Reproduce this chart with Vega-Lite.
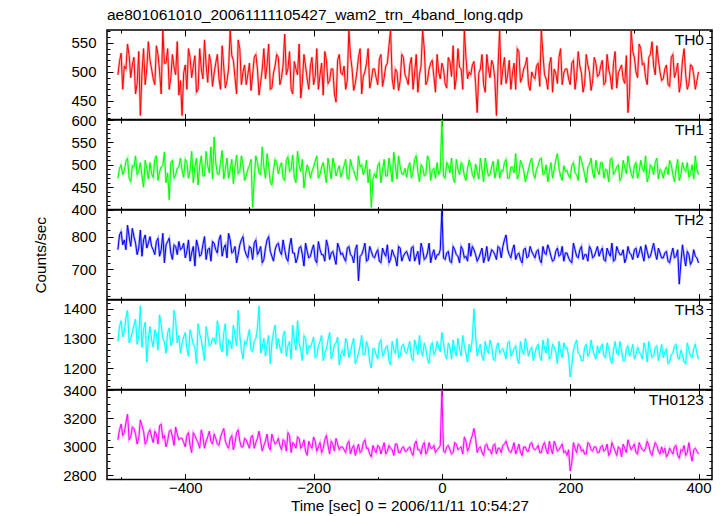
{
 "$schema": "https://vega.github.io/schema/vega-lite/v6.json",
 "padding": {"left": 33, "top": 8, "right": 5, "bottom": 2},
 "title": {"text": "ae801061010_20061111105427_wam2_trn_4band_long.qdp", "anchor": "start", "frame": "group", "fontSize": 15.5, "fontWeight": "normal", "font": "Liberation Sans", "color": "#000", "offset": 5},
 "spacing": 0,
 "bounds": "flush",
 "datasets": {"lc": [
{"t":-505,"a":495,"b":470,"c":760,"d":1290,"e":3050},
{"t":-500,"a":532,"b":500,"c":815,"d":1360,"e":3160},
{"t":-495,"a":510,"b":488,"c":790,"d":1325,"e":3100},
{"t":-490,"a":548,"b":515,"c":835,"d":1395,"e":3230},
{"t":-485,"a":490,"b":462,"c":770,"d":1300,"e":3070},
{"t":-480,"a":525,"b":495,"c":800,"d":1345,"e":3130},
{"t":-475,"a":480,"b":478,"c":745,"d":1280,"e":3020},
{"t":-470,"a":425,"b":505,"c":820,"d":1410,"e":3190},
{"t":-465,"a":540,"b":450,"c":790,"d":1330,"e":3110},
{"t":-460,"a":505,"b":492,"c":765,"d":1220,"e":3040},
{"t":-455,"a":520,"b":505,"c":800,"d":1340,"e":3120},
{"t":-450,"a":488,"b":472,"c":760,"d":1270,"e":3030},
{"t":-445,"a":545,"b":520,"c":785,"d":1315,"e":3090},
{"t":-440,"a":500,"b":485,"c":740,"d":1380,"e":3150},
{"t":-435,"a":572,"b":498,"c":810,"d":1300,"e":3060},
{"t":-430,"a":515,"b":460,"c":775,"d":1250,"e":3000},
{"t":-425,"a":470,"b":422,"c":795,"d":1335,"e":3110},
{"t":-420,"a":530,"b":510,"c":730,"d":1290,"e":3070},
{"t":-415,"a":495,"b":478,"c":770,"d":1360,"e":3140},
{"t":-410,"a":460,"b":495,"c":785,"d":1310,"e":3050},
{"t":-405,"a":425,"b":488,"c":765,"d":1285,"e":3060},
{"t":-400,"a":512,"b":512,"c":735,"d":1320,"e":3000},
{"t":-395,"a":540,"b":470,"c":790,"d":1240,"e":3100},
{"t":-390,"a":490,"b":530,"c":750,"d":1305,"e":2960},
{"t":-385,"a":528,"b":495,"c":710,"d":1270,"e":3080},
{"t":-380,"a":470,"b":455,"c":770,"d":1350,"e":3030},
{"t":-375,"a":505,"b":520,"c":745,"d":1295,"e":3120},
{"t":-370,"a":555,"b":475,"c":800,"d":1225,"e":2990},
{"t":-365,"a":482,"b":498,"c":760,"d":1310,"e":3070},
{"t":-360,"a":515,"b":540,"c":725,"d":1280,"e":3040},
{"t":-355,"a":498,"b":562,"c":780,"d":1300,"e":3090},
{"t":-350,"a":530,"b":480,"c":750,"d":1360,"e":3020},
{"t":-345,"a":470,"b":505,"c":805,"d":1270,"e":3070},
{"t":-340,"a":508,"b":468,"c":765,"d":1320,"e":3130},
{"t":-335,"a":485,"b":515,"c":735,"d":1240,"e":3010},
{"t":-330,"a":572,"b":490,"c":790,"d":1290,"e":3060},
{"t":-325,"a":520,"b":458,"c":755,"d":1345,"e":2980},
{"t":-320,"a":462,"b":522,"c":720,"d":1275,"e":3100},
{"t":-315,"a":540,"b":485,"c":775,"d":1310,"e":3040},
{"t":-310,"a":500,"b":500,"c":800,"d":1230,"e":3000},
{"t":-305,"a":478,"b":475,"c":745,"d":1280,"e":3050},
{"t":-300,"a":515,"b":498,"c":770,"d":1330,"e":2990},
{"t":-295,"a":495,"b":405,"c":730,"d":1255,"e":3080},
{"t":-290,"a":530,"b":520,"c":790,"d":1300,"e":3030},
{"t":-285,"a":460,"b":482,"c":755,"d":1410,"e":3110},
{"t":-280,"a":505,"b":540,"c":720,"d":1270,"e":2970},
{"t":-275,"a":488,"b":470,"c":765,"d":1240,"e":3040},
{"t":-270,"a":548,"b":498,"c":800,"d":1310,"e":3000},
{"t":-265,"a":472,"b":455,"c":740,"d":1285,"e":3090},
{"t":-260,"a":510,"b":512,"c":760,"d":1345,"e":3020},
{"t":-255,"a":525,"b":480,"c":780,"d":1300,"e":3060},
{"t":-250,"a":490,"b":505,"c":745,"d":1250,"e":2980},
{"t":-245,"a":565,"b":465,"c":760,"d":1325,"e":3040},
{"t":-240,"a":505,"b":518,"c":725,"d":1275,"e":3100},
{"t":-235,"a":470,"b":490,"c":795,"d":1230,"e":2960},
{"t":-230,"a":518,"b":472,"c":750,"d":1295,"e":3020},
{"t":-225,"a":495,"b":530,"c":735,"d":1360,"e":3070},
{"t":-220,"a":455,"b":485,"c":770,"d":1260,"e":2990},
{"t":-215,"a":530,"b":448,"c":710,"d":1310,"e":3050},
{"t":-210,"a":488,"b":500,"c":755,"d":1245,"e":2940},
{"t":-205,"a":510,"b":470,"c":740,"d":1270,"e":3010},
{"t":-200,"a":478,"b":495,"c":775,"d":1305,"e":3070},
{"t":-195,"a":540,"b":520,"c":720,"d":1240,"e":2970},
{"t":-190,"a":495,"b":478,"c":760,"d":1290,"e":3030},
{"t":-185,"a":460,"b":505,"c":745,"d":1225,"e":2990},
{"t":-180,"a":520,"b":460,"c":790,"d":1265,"e":3080},
{"t":-175,"a":485,"b":492,"c":730,"d":1320,"e":2950},
{"t":-170,"a":505,"b":515,"c":755,"d":1250,"e":3020},
{"t":-165,"a":448,"b":475,"c":715,"d":1285,"e":3060},
{"t":-160,"a":530,"b":498,"c":765,"d":1210,"e":2980},
{"t":-155,"a":495,"b":485,"c":750,"d":1260,"e":3000},
{"t":-150,"a":470,"b":512,"c":725,"d":1300,"e":2960},
{"t":-145,"a":572,"b":468,"c":770,"d":1235,"e":3040},
{"t":-140,"a":505,"b":495,"c":740,"d":1280,"e":2990},
{"t":-135,"a":480,"b":475,"c":760,"d":1215,"e":2940},
{"t":-130,"a":525,"b":520,"c":665,"d":1250,"e":3020},
{"t":-125,"a":462,"b":500,"c":745,"d":1310,"e":2970},
{"t":-120,"a":500,"b":488,"c":780,"d":1245,"e":3050},
{"t":-115,"a":540,"b":460,"c":730,"d":1270,"e":2990},
{"t":-110,"a":485,"b":405,"c":755,"d":1200,"e":2930},
{"t":-105,"a":505,"b":480,"c":735,"d":1265,"e":2980},
{"t":-100,"a":478,"b":498,"c":760,"d":1230,"e":3010},
{"t":-95,"a":530,"b":460,"c":720,"d":1295,"e":2950},
{"t":-90,"a":490,"b":512,"c":750,"d":1250,"e":3030},
{"t":-85,"a":515,"b":475,"c":775,"d":1275,"e":2970},
{"t":-80,"a":572,"b":490,"c":730,"d":1210,"e":2990},
{"t":-75,"a":470,"b":528,"c":745,"d":1260,"e":2940},
{"t":-70,"a":500,"b":468,"c":710,"d":1300,"e":3020},
{"t":-65,"a":485,"b":495,"c":765,"d":1240,"e":2960},
{"t":-60,"a":525,"b":478,"c":740,"d":1280,"e":3000},
{"t":-55,"a":488,"b":472,"c":755,"d":1250,"e":2970},
{"t":-50,"a":512,"b":505,"c":725,"d":1290,"e":3000},
{"t":-45,"a":470,"b":485,"c":770,"d":1225,"e":2940},
{"t":-40,"a":530,"b":520,"c":740,"d":1275,"e":3040},
{"t":-35,"a":495,"b":462,"c":715,"d":1310,"e":2980},
{"t":-30,"a":572,"b":495,"c":760,"d":1240,"e":3010},
{"t":-25,"a":478,"b":478,"c":735,"d":1265,"e":2950},
{"t":-20,"a":505,"b":510,"c":780,"d":1215,"e":3030},
{"t":-15,"a":520,"b":488,"c":745,"d":1285,"e":2990},
{"t":-10,"a":465,"b":470,"c":730,"d":1255,"e":2960},
{"t":-5,"a":500,"b":478,"c":745,"d":1270,"e":2990},
{"t":0,"a":515,"b":600,"c":880,"d":1320,"e":3400},
{"t":5,"a":480,"b":470,"c":730,"d":1245,"e":2960},
{"t":10,"a":525,"b":498,"c":755,"d":1285,"e":3010},
{"t":15,"a":492,"b":515,"c":720,"d":1230,"e":2950},
{"t":20,"a":470,"b":460,"c":760,"d":1260,"e":3030},
{"t":25,"a":540,"b":490,"c":740,"d":1300,"e":2980},
{"t":30,"a":505,"b":505,"c":770,"d":1240,"e":3000},
{"t":35,"a":572,"b":475,"c":735,"d":1275,"e":3070},
{"t":40,"a":488,"b":492,"c":725,"d":1220,"e":2970},
{"t":45,"a":495,"b":500,"c":740,"d":1255,"e":3050},
{"t":50,"a":518,"b":470,"c":760,"d":1400,"e":3130},
{"t":55,"a":430,"b":485,"c":725,"d":1240,"e":2960},
{"t":60,"a":505,"b":515,"c":750,"d":1280,"e":3000},
{"t":65,"a":478,"b":462,"c":720,"d":1225,"e":2940},
{"t":70,"a":530,"b":495,"c":770,"d":1265,"e":3020},
{"t":75,"a":490,"b":478,"c":740,"d":1295,"e":2980},
{"t":80,"a":512,"b":508,"c":755,"d":1230,"e":3010},
{"t":85,"a":425,"b":488,"c":730,"d":1270,"e":2950},
{"t":90,"a":572,"b":470,"c":765,"d":1250,"e":2990},
{"t":95,"a":505,"b":485,"c":770,"d":1265,"e":3010},
{"t":100,"a":480,"b":512,"c":805,"d":1230,"e":3040},
{"t":105,"a":520,"b":470,"c":745,"d":1290,"e":2970},
{"t":110,"a":498,"b":495,"c":760,"d":1250,"e":2990},
{"t":115,"a":470,"b":525,"c":730,"d":1275,"e":2950},
{"t":120,"a":535,"b":478,"c":750,"d":1215,"e":3020},
{"t":125,"a":490,"b":500,"c":720,"d":1260,"e":2940},
{"t":130,"a":512,"b":462,"c":765,"d":1300,"e":3000},
{"t":135,"a":478,"b":490,"c":740,"d":1240,"e":2970},
{"t":140,"a":500,"b":515,"c":755,"d":1270,"e":3030},
{"t":145,"a":488,"b":470,"c":735,"d":1250,"e":2980},
{"t":150,"a":515,"b":498,"c":760,"d":1280,"e":3010},
{"t":155,"a":572,"b":515,"c":720,"d":1225,"e":2960},
{"t":160,"a":495,"b":480,"c":750,"d":1265,"e":3030},
{"t":165,"a":470,"b":462,"c":775,"d":1300,"e":2950},
{"t":170,"a":525,"b":505,"c":740,"d":1240,"e":2990},
{"t":175,"a":505,"b":490,"c":730,"d":1270,"e":3040},
{"t":180,"a":480,"b":525,"c":765,"d":1215,"e":2970},
{"t":185,"a":540,"b":475,"c":745,"d":1255,"e":3000},
{"t":190,"a":498,"b":498,"c":725,"d":1285,"e":2960},
{"t":195,"a":505,"b":488,"c":750,"d":1270,"e":2940},
{"t":200,"a":478,"b":470,"c":725,"d":1170,"e":2830},
{"t":205,"a":520,"b":505,"c":780,"d":1260,"e":3030},
{"t":210,"a":492,"b":478,"c":740,"d":1295,"e":2960},
{"t":215,"a":510,"b":520,"c":760,"d":1245,"e":3010},
{"t":220,"a":465,"b":495,"c":730,"d":1225,"e":2980},
{"t":225,"a":530,"b":460,"c":745,"d":1280,"e":2950},
{"t":230,"a":500,"b":500,"c":770,"d":1250,"e":3020},
{"t":235,"a":485,"b":482,"c":735,"d":1265,"e":2970},
{"t":240,"a":515,"b":510,"c":755,"d":1230,"e":3000},
{"t":245,"a":495,"b":478,"c":740,"d":1250,"e":2960},
{"t":250,"a":520,"b":505,"c":765,"d":1280,"e":3010},
{"t":255,"a":482,"b":490,"c":725,"d":1235,"e":2980},
{"t":260,"a":505,"b":462,"c":750,"d":1265,"e":2940},
{"t":265,"a":470,"b":515,"c":780,"d":1215,"e":3030},
{"t":270,"a":535,"b":485,"c":730,"d":1290,"e":2970},
{"t":275,"a":498,"b":500,"c":755,"d":1245,"e":3000},
{"t":280,"a":512,"b":472,"c":745,"d":1260,"e":2930},
{"t":285,"a":480,"b":495,"c":720,"d":1225,"e":2990},
{"t":290,"a":430,"b":520,"c":770,"d":1275,"e":3050},
{"t":295,"a":572,"b":480,"c":745,"d":1255,"e":2980},
{"t":300,"a":525,"b":498,"c":760,"d":1230,"e":3020},
{"t":305,"a":490,"b":470,"c":735,"d":1270,"e":2950},
{"t":310,"a":540,"b":510,"c":770,"d":1245,"e":3000},
{"t":315,"a":515,"b":485,"c":725,"d":1285,"e":2970},
{"t":320,"a":478,"b":462,"c":755,"d":1220,"e":3040},
{"t":325,"a":530,"b":500,"c":740,"d":1260,"e":2960},
{"t":330,"a":510,"b":478,"c":780,"d":1240,"e":2990},
{"t":335,"a":545,"b":515,"c":730,"d":1275,"e":3010},
{"t":340,"a":500,"b":490,"c":750,"d":1250,"e":2950},
{"t":345,"a":488,"b":470,"c":735,"d":1235,"e":2960},
{"t":350,"a":512,"b":495,"c":755,"d":1265,"e":2930},
{"t":355,"a":475,"b":510,"c":720,"d":1220,"e":2990},
{"t":360,"a":530,"b":478,"c":765,"d":1250,"e":2950},
{"t":365,"a":500,"b":490,"c":740,"d":1280,"e":3010},
{"t":370,"a":465,"b":465,"c":655,"d":1230,"e":2920},
{"t":375,"a":520,"b":505,"c":775,"d":1245,"e":2970},
{"t":380,"a":495,"b":485,"c":710,"d":1215,"e":2940},
{"t":385,"a":480,"b":472,"c":745,"d":1260,"e":3030},
{"t":390,"a":510,"b":500,"c":725,"d":1235,"e":2900},
{"t":395,"a":470,"b":520,"c":740,"d":1280,"e":2990},
{"t":400,"a":500,"b":478,"c":720,"d":1230,"e":2950},
{"t":-502.5,"a":518,"b":492,"c":805,"d":1340,"e":3120},
{"t":-497.5,"a":470,"b":478,"c":775,"d":1305,"e":3080},
{"t":-492.5,"a":505,"b":508,"c":760,"d":1370,"e":3170},
{"t":-487.5,"a":528,"b":470,"c":800,"d":1285,"e":3050},
{"t":-482.5,"a":512,"b":498,"c":825,"d":1320,"e":3140},
{"t":-477.5,"a":462,"b":520,"c":780,"d":1365,"e":3090},
{"t":-472.5,"a":535,"b":486,"c":765,"d":1310,"e":3060},
{"t":-467.5,"a":498,"b":475,"c":740,"d":1270,"e":3150},
{"t":-462.5,"a":478,"b":510,"c":805,"d":1355,"e":3020},
{"t":-457.5,"a":552,"b":468,"c":780,"d":1300,"e":3100},
{"t":-452.5,"a":505,"b":480,"c":770,"d":1295,"e":3070},
{"t":-447.5,"a":478,"b":512,"c":745,"d":1330,"e":3110},
{"t":-442.5,"a":530,"b":465,"c":795,"d":1260,"e":3020},
{"t":-437.5,"a":462,"b":495,"c":760,"d":1345,"e":3160},
{"t":-432.5,"a":515,"b":528,"c":720,"d":1290,"e":3080},
{"t":-427.5,"a":540,"b":482,"c":785,"d":1320,"e":3040},
{"t":-422.5,"a":490,"b":505,"c":750,"d":1275,"e":3120},
{"t":-417.5,"a":508,"b":470,"c":775,"d":1395,"e":3010},
{"t":-412.5,"a":552,"b":492,"c":745,"d":1285,"e":3090},
{"t":-407.5,"a":485,"b":515,"c":760,"d":1250,"e":3060},
{"t":-402.5,"a":498,"b":472,"c":780,"d":1305,"e":3030},
{"t":-397.5,"a":470,"b":505,"c":755,"d":1265,"e":3080},
{"t":-392.5,"a":525,"b":488,"c":725,"d":1330,"e":3010},
{"t":-387.5,"a":510,"b":460,"c":770,"d":1280,"e":3100},
{"t":-382.5,"a":465,"b":515,"c":790,"d":1215,"e":3050},
{"t":-377.5,"a":540,"b":498,"c":740,"d":1315,"e":2990},
{"t":-372.5,"a":488,"b":475,"c":775,"d":1260,"e":3070},
{"t":-367.5,"a":512,"b":530,"c":730,"d":1340,"e":3040},
{"t":-362.5,"a":530,"b":482,"c":765,"d":1275,"e":3110},
{"t":-357.5,"a":475,"b":468,"c":785,"d":1300,"e":3020},
{"t":-352.5,"a":515,"b":505,"c":760,"d":1280,"e":3060},
{"t":-347.5,"a":488,"b":478,"c":790,"d":1325,"e":3010},
{"t":-342.5,"a":545,"b":532,"c":740,"d":1255,"e":3100},
{"t":-337.5,"a":472,"b":490,"c":775,"d":1350,"e":3040},
{"t":-332.5,"a":505,"b":470,"c":810,"d":1295,"e":2990},
{"t":-327.5,"a":528,"b":512,"c":750,"d":1265,"e":3080},
{"t":-322.5,"a":490,"b":495,"c":770,"d":1310,"e":3030},
{"t":-317.5,"a":555,"b":480,"c":745,"d":1395,"e":3120},
{"t":-312.5,"a":478,"b":520,"c":790,"d":1260,"e":3000},
{"t":-307.5,"a":512,"b":465,"c":760,"d":1290,"e":3060},
{"t":-302.5,"a":495,"b":490,"c":735,"d":1305,"e":3020},
{"t":-297.5,"a":468,"b":512,"c":765,"d":1260,"e":3070},
{"t":-292.5,"a":525,"b":468,"c":780,"d":1290,"e":2990},
{"t":-287.5,"a":505,"b":505,"c":745,"d":1335,"e":3060},
{"t":-282.5,"a":482,"b":478,"c":770,"d":1250,"e":3040},
{"t":-277.5,"a":540,"b":495,"c":730,"d":1300,"e":3010},
{"t":-272.5,"a":512,"b":525,"c":790,"d":1280,"e":3090},
{"t":-267.5,"a":470,"b":462,"c":755,"d":1215,"e":2980},
{"t":-262.5,"a":498,"b":488,"c":725,"d":1320,"e":3050},
{"t":-257.5,"a":530,"b":505,"c":775,"d":1265,"e":3030},
{"t":-252.5,"a":478,"b":495,"c":755,"d":1270,"e":3010},
{"t":-247.5,"a":512,"b":470,"c":790,"d":1310,"e":3050},
{"t":-242.5,"a":495,"b":510,"c":735,"d":1240,"e":2970},
{"t":-237.5,"a":535,"b":485,"c":770,"d":1290,"e":3080},
{"t":-232.5,"a":462,"b":522,"c":750,"d":1345,"e":3030},
{"t":-227.5,"a":505,"b":460,"c":720,"d":1260,"e":2990},
{"t":-222.5,"a":548,"b":498,"c":765,"d":1285,"e":3060},
{"t":-217.5,"a":482,"b":512,"c":745,"d":1225,"e":3010},
{"t":-212.5,"a":510,"b":478,"c":780,"d":1300,"e":2970},
{"t":-207.5,"a":470,"b":490,"c":735,"d":1275,"e":3040},
{"t":-202.5,"a":525,"b":485,"c":760,"d":1285,"e":2990},
{"t":-197.5,"a":492,"b":508,"c":730,"d":1235,"e":3040},
{"t":-192.5,"a":470,"b":470,"c":785,"d":1275,"e":3000},
{"t":-187.5,"a":515,"b":495,"c":745,"d":1310,"e":2960},
{"t":-182.5,"a":535,"b":482,"c":725,"d":1250,"e":3050},
{"t":-177.5,"a":480,"b":515,"c":770,"d":1295,"e":3010},
{"t":-172.5,"a":505,"b":468,"c":750,"d":1230,"e":3040},
{"t":-167.5,"a":462,"b":500,"c":735,"d":1280,"e":2970},
{"t":-162.5,"a":520,"b":488,"c":780,"d":1305,"e":3020},
{"t":-157.5,"a":498,"b":472,"c":745,"d":1245,"e":3000},
{"t":-152.5,"a":510,"b":498,"c":735,"d":1240,"e":2980},
{"t":-147.5,"a":485,"b":470,"c":765,"d":1285,"e":3020},
{"t":-142.5,"a":528,"b":512,"c":745,"d":1255,"e":2950},
{"t":-137.5,"a":468,"b":488,"c":720,"d":1300,"e":3010},
{"t":-132.5,"a":500,"b":465,"c":775,"d":1230,"e":2980},
{"t":-127.5,"a":540,"b":495,"c":740,"d":1275,"e":2960},
{"t":-122.5,"a":492,"b":478,"c":760,"d":1245,"e":3030},
{"t":-117.5,"a":515,"b":510,"c":725,"d":1290,"e":2990},
{"t":-112.5,"a":472,"b":490,"c":770,"d":1220,"e":2950},
{"t":-107.5,"a":505,"b":468,"c":740,"d":1265,"e":3010},
{"t":-102.5,"a":490,"b":470,"c":750,"d":1245,"e":2960},
{"t":-97.5,"a":522,"b":505,"c":725,"d":1285,"e":3000},
{"t":-92.5,"a":475,"b":488,"c":765,"d":1240,"e":2990},
{"t":-87.5,"a":510,"b":475,"c":740,"d":1270,"e":2950},
{"t":-82.5,"a":545,"b":515,"c":720,"d":1225,"e":3010},
{"t":-77.5,"a":488,"b":462,"c":760,"d":1290,"e":2980},
{"t":-72.5,"a":505,"b":498,"c":735,"d":1250,"e":3020},
{"t":-67.5,"a":468,"b":520,"c":770,"d":1235,"e":2960},
{"t":-62.5,"a":530,"b":480,"c":725,"d":1275,"e":2990},
{"t":-57.5,"a":495,"b":492,"c":750,"d":1255,"e":2970},
{"t":-52.5,"a":478,"b":495,"c":740,"d":1270,"e":2990},
{"t":-47.5,"a":525,"b":470,"c":765,"d":1235,"e":2960},
{"t":-42.5,"a":498,"b":512,"c":725,"d":1295,"e":3020},
{"t":-37.5,"a":465,"b":485,"c":755,"d":1245,"e":2980},
{"t":-32.5,"a":510,"b":500,"c":780,"d":1260,"e":2950},
{"t":-27.5,"a":540,"b":475,"c":730,"d":1285,"e":3030},
{"t":-22.5,"a":485,"b":520,"c":750,"d":1230,"e":2970},
{"t":-17.5,"a":515,"b":465,"c":720,"d":1275,"e":2990},
{"t":-12.5,"a":492,"b":492,"c":760,"d":1245,"e":3010},
{"t":-7.5,"a":530,"b":505,"c":745,"d":1290,"e":2980},
{"t":-2.5,"a":488,"b":488,"c":760,"d":1255,"e":3010},
{"t":2.5,"a":505,"b":475,"c":735,"d":1285,"e":2970},
{"t":7.5,"a":472,"b":505,"c":750,"d":1230,"e":3000},
{"t":12.5,"a":518,"b":482,"c":725,"d":1270,"e":2980},
{"t":17.5,"a":545,"b":470,"c":770,"d":1295,"e":2960},
{"t":22.5,"a":490,"b":512,"c":745,"d":1240,"e":3020},
{"t":27.5,"a":508,"b":478,"c":720,"d":1265,"e":2990},
{"t":32.5,"a":470,"b":498,"c":760,"d":1310,"e":2950},
{"t":37.5,"a":525,"b":465,"c":740,"d":1250,"e":3040},
{"t":42.5,"a":500,"b":510,"c":780,"d":1280,"e":3000},
{"t":47.5,"a":512,"b":478,"c":770,"d":1300,"e":3080},
{"t":52.5,"a":480,"b":502,"c":745,"d":1310,"e":3060},
{"t":57.5,"a":498,"b":468,"c":735,"d":1265,"e":2990},
{"t":62.5,"a":530,"b":490,"c":765,"d":1240,"e":2960},
{"t":67.5,"a":465,"b":515,"c":740,"d":1290,"e":3010},
{"t":72.5,"a":505,"b":475,"c":725,"d":1250,"e":2980},
{"t":77.5,"a":520,"b":495,"c":760,"d":1275,"e":2950},
{"t":82.5,"a":488,"b":470,"c":745,"d":1225,"e":3020},
{"t":87.5,"a":510,"b":512,"c":770,"d":1285,"e":2990},
{"t":92.5,"a":478,"b":488,"c":735,"d":1260,"e":2960},
{"t":97.5,"a":525,"b":505,"c":790,"d":1250,"e":3020},
{"t":102.5,"a":495,"b":470,"c":760,"d":1285,"e":3000},
{"t":107.5,"a":470,"b":495,"c":735,"d":1240,"e":2960},
{"t":112.5,"a":515,"b":482,"c":775,"d":1265,"e":3030},
{"t":117.5,"a":540,"b":468,"c":745,"d":1230,"e":2980},
{"t":122.5,"a":482,"b":510,"c":730,"d":1290,"e":2960},
{"t":127.5,"a":505,"b":488,"c":760,"d":1245,"e":3000},
{"t":132.5,"a":525,"b":475,"c":735,"d":1275,"e":2970},
{"t":137.5,"a":468,"b":505,"c":770,"d":1260,"e":3020},
{"t":142.5,"a":492,"b":480,"c":745,"d":1225,"e":2990},
{"t":147.5,"a":510,"b":490,"c":755,"d":1270,"e":2990},
{"t":152.5,"a":475,"b":512,"c":730,"d":1240,"e":2960},
{"t":157.5,"a":530,"b":478,"c":770,"d":1295,"e":3010},
{"t":162.5,"a":488,"b":500,"c":745,"d":1250,"e":2980},
{"t":167.5,"a":512,"b":485,"c":760,"d":1230,"e":3040},
{"t":172.5,"a":465,"b":470,"c":725,"d":1280,"e":2950},
{"t":177.5,"a":498,"b":510,"c":755,"d":1255,"e":3010},
{"t":182.5,"a":525,"b":492,"c":740,"d":1290,"e":2980},
{"t":187.5,"a":478,"b":465,"c":770,"d":1235,"e":3020},
{"t":192.5,"a":505,"b":485,"c":750,"d":1265,"e":2970},
{"t":197.5,"a":488,"b":475,"c":735,"d":1240,"e":2980},
{"t":202.5,"a":515,"b":498,"c":720,"d":1210,"e":2890},
{"t":207.5,"a":470,"b":482,"c":760,"d":1280,"e":2990},
{"t":212.5,"a":535,"b":465,"c":735,"d":1250,"e":3020},
{"t":217.5,"a":498,"b":510,"c":770,"d":1225,"e":2970},
{"t":222.5,"a":480,"b":478,"c":745,"d":1270,"e":2950},
{"t":227.5,"a":512,"b":495,"c":725,"d":1240,"e":3030},
{"t":232.5,"a":468,"b":515,"c":760,"d":1295,"e":2980},
{"t":237.5,"a":525,"b":470,"c":740,"d":1245,"e":3000},
{"t":242.5,"a":492,"b":488,"c":770,"d":1275,"e":2960},
{"t":247.5,"a":510,"b":505,"c":755,"d":1270,"e":3000},
{"t":252.5,"a":478,"b":470,"c":730,"d":1240,"e":2970},
{"t":257.5,"a":530,"b":488,"c":765,"d":1285,"e":3020},
{"t":262.5,"a":492,"b":512,"c":740,"d":1230,"e":2960},
{"t":267.5,"a":515,"b":478,"c":725,"d":1260,"e":3000},
{"t":272.5,"a":472,"b":495,"c":770,"d":1250,"e":2940},
{"t":277.5,"a":505,"b":465,"c":745,"d":1290,"e":2990},
{"t":282.5,"a":488,"b":510,"c":760,"d":1225,"e":3020},
{"t":287.5,"a":528,"b":480,"c":735,"d":1265,"e":2960},
{"t":292.5,"a":465,"b":498,"c":750,"d":1240,"e":3010},
{"t":297.5,"a":535,"b":470,"c":730,"d":1280,"e":3000},
{"t":302.5,"a":500,"b":505,"c":765,"d":1245,"e":2960},
{"t":307.5,"a":548,"b":485,"c":750,"d":1255,"e":3030},
{"t":312.5,"a":512,"b":492,"c":745,"d":1230,"e":2980},
{"t":317.5,"a":490,"b":520,"c":775,"d":1265,"e":2990},
{"t":322.5,"a":525,"b":475,"c":735,"d":1290,"e":3010},
{"t":327.5,"a":552,"b":495,"c":760,"d":1235,"e":2940},
{"t":332.5,"a":495,"b":505,"c":750,"d":1270,"e":3030},
{"t":337.5,"a":520,"b":468,"c":765,"d":1225,"e":2970},
{"t":342.5,"a":485,"b":485,"c":735,"d":1280,"e":3000},
{"t":347.5,"a":505,"b":488,"c":750,"d":1255,"e":2990},
{"t":352.5,"a":478,"b":478,"c":725,"d":1215,"e":2950},
{"t":357.5,"a":525,"b":500,"c":745,"d":1245,"e":2970},
{"t":362.5,"a":490,"b":462,"c":735,"d":1275,"e":3000},
{"t":367.5,"a":515,"b":512,"c":760,"d":1235,"e":2940},
{"t":372.5,"a":482,"b":478,"c":720,"d":1260,"e":2980},
{"t":377.5,"a":540,"b":490,"c":740,"d":1220,"e":3010},
{"t":382.5,"a":470,"b":505,"c":755,"d":1285,"e":2960},
{"t":387.5,"a":512,"b":480,"c":715,"d":1240,"e":2950},
{"t":392.5,"a":495,"b":468,"c":760,"d":1265,"e":2980},
{"t":397.5,"a":485,"b":490,"c":735,"d":1250,"e":2970}
 ]},
 "vconcat": [
  {
   "width": 605, "height": 89.6,
   "data": {"name": "lc"},
   "layer": [
    {"mark": {"type": "line", "color": "#ff0000", "strokeWidth": 2.5, "opacity": 0.3, "clip": true},
     "encoding": {
      "x": {"field": "t", "type": "quantitative", "scale": {"domain": [-522, 421], "nice": false, "zero": false},
            "axis": {"orient": "bottom", "minExtent": 0, "maxExtent": 0, "values": [-500,-400,-300,-200,-100,0,100,200,300,400], "labels": false, "title": null, "tickSize": {"condition": {"test": "datum.value % 200 === 0", "value": -6}, "value": -3}}},
      "y": {"field": "a", "type": "quantitative", "scale": {"domain": [418, 572], "nice": false, "zero": false},
            "axis": {"orient": "left", "format": "d", "values": [420,430,440,450,460,470,480,490,500,510,520,530,540,550,560,570], "labelExpr": "datum.value % 50 === 0 ? datum.label : ''", "labelFontSize": {"condition": {"test": "datum.value % 50 === 0", "value": 15}, "value": 0}, "labelPadding": 17, "title": null, "tickSize": {"condition": {"test": "datum.value % 50 === 0", "value": -6}, "value": -3}}}}},
    {"mark": {"type": "line", "color": "#ff0000", "strokeWidth": 1, "clip": true},
     "encoding": {
      "x": {"field": "t", "type": "quantitative", "scale": {"domain": [-522, 421], "nice": false, "zero": false},
            "axis": {"orient": "top", "minExtent": 0, "maxExtent": 0, "values": [-500,-400,-300,-200,-100,0,100,200,300,400], "labels": false, "title": null, "tickSize": {"condition": {"test": "datum.value % 200 === 0", "value": -6}, "value": -3}}},
      "y": {"field": "a", "type": "quantitative", "scale": {"domain": [418, 572], "nice": false, "zero": false},
            "axis": {"orient": "right", "minExtent": 0, "maxExtent": 0, "values": [420,430,440,450,460,470,480,490,500,510,520,530,540,550,560,570], "labels": false, "title": null, "tickSize": {"condition": {"test": "datum.value % 50 === 0", "value": -6}, "value": -3}}}}},
    {"data": {"values": [{"label": "TH0"}]},
     "mark": {"type": "text", "align": "right", "baseline": "alphabetic", "dx": -8, "dy": 15, "fontSize": 15.5, "font": "Liberation Sans", "color": "#000"},
     "encoding": {"x": {"datum": 421, "type": "quantitative", "axis": null}, "y": {"datum": 572, "type": "quantitative", "axis": null}, "text": {"field": "label"}}}
   ],
   "resolve": {"axis": {"x": "independent", "y": "independent"}}
  },
  {
   "width": 605, "height": 89.6,
   "data": {"name": "lc"},
   "layer": [
    {"mark": {"type": "line", "color": "#00ff00", "strokeWidth": 2.5, "opacity": 0.3, "clip": true},
     "encoding": {
      "x": {"field": "t", "type": "quantitative", "scale": {"domain": [-522, 421], "nice": false, "zero": false},
            "axis": {"orient": "bottom", "minExtent": 0, "maxExtent": 0, "values": [-500,-400,-300,-200,-100,0,100,200,300,400], "labels": false, "title": null, "tickSize": {"condition": {"test": "datum.value % 200 === 0", "value": -6}, "value": -3}}},
      "y": {"field": "b", "type": "quantitative", "scale": {"domain": [400, 600], "nice": false, "zero": false},
            "axis": {"orient": "left", "format": "d", "values": [400,410,420,430,440,450,460,470,480,490,500,510,520,530,540,550,560,570,580,590,600], "labelExpr": "datum.value % 50 === 0 ? datum.label : ''", "labelFontSize": {"condition": {"test": "datum.value % 50 === 0", "value": 15}, "value": 0}, "labelPadding": 17, "title": null, "tickSize": {"condition": {"test": "datum.value % 50 === 0", "value": -6}, "value": -3}}}}},
    {"mark": {"type": "line", "color": "#00ff00", "strokeWidth": 1, "clip": true},
     "encoding": {
      "x": {"field": "t", "type": "quantitative", "scale": {"domain": [-522, 421], "nice": false, "zero": false},
            "axis": {"orient": "top", "minExtent": 0, "maxExtent": 0, "values": [-500,-400,-300,-200,-100,0,100,200,300,400], "labels": false, "title": null, "tickSize": {"condition": {"test": "datum.value % 200 === 0", "value": -6}, "value": -3}}},
      "y": {"field": "b", "type": "quantitative", "scale": {"domain": [400, 600], "nice": false, "zero": false},
            "axis": {"orient": "right", "minExtent": 0, "maxExtent": 0, "values": [400,410,420,430,440,450,460,470,480,490,500,510,520,530,540,550,560,570,580,590,600], "labels": false, "title": null, "tickSize": {"condition": {"test": "datum.value % 50 === 0", "value": -6}, "value": -3}}}}},
    {"data": {"values": [{"label": "TH1"}]},
     "mark": {"type": "text", "align": "right", "baseline": "alphabetic", "dx": -8, "dy": 15, "fontSize": 15.5, "font": "Liberation Sans", "color": "#000"},
     "encoding": {"x": {"datum": 421, "type": "quantitative", "axis": null}, "y": {"datum": 600, "type": "quantitative", "axis": null}, "text": {"field": "label"}}}
   ],
   "resolve": {"axis": {"x": "independent", "y": "independent"}}
  },
  {
   "width": 605, "height": 89.6,
   "data": {"name": "lc"},
   "layer": [
    {"mark": {"type": "line", "color": "#0000ff", "strokeWidth": 2.5, "opacity": 0.3, "clip": true},
     "encoding": {
      "x": {"field": "t", "type": "quantitative", "scale": {"domain": [-522, 421], "nice": false, "zero": false},
            "axis": {"orient": "bottom", "minExtent": 0, "maxExtent": 0, "values": [-500,-400,-300,-200,-100,0,100,200,300,400], "labels": false, "title": null, "tickSize": {"condition": {"test": "datum.value % 200 === 0", "value": -6}, "value": -3}}},
      "y": {"field": "c", "type": "quantitative", "scale": {"domain": [608, 881], "nice": false, "zero": false},
            "axis": {"orient": "left", "format": "d", "values": [620,640,660,680,700,720,740,760,780,800,820,840,860,880], "labelExpr": "datum.value % 100 === 0 ? datum.label : ''", "labelFontSize": {"condition": {"test": "datum.value % 100 === 0", "value": 15}, "value": 0}, "labelPadding": 17, "title": "Counts/sec", "titlePadding": 22, "tickSize": {"condition": {"test": "datum.value % 100 === 0", "value": -6}, "value": -3}}}}},
    {"mark": {"type": "line", "color": "#0000ff", "strokeWidth": 1, "clip": true},
     "encoding": {
      "x": {"field": "t", "type": "quantitative", "scale": {"domain": [-522, 421], "nice": false, "zero": false},
            "axis": {"orient": "top", "minExtent": 0, "maxExtent": 0, "values": [-500,-400,-300,-200,-100,0,100,200,300,400], "labels": false, "title": null, "tickSize": {"condition": {"test": "datum.value % 200 === 0", "value": -6}, "value": -3}}},
      "y": {"field": "c", "type": "quantitative", "scale": {"domain": [608, 881], "nice": false, "zero": false},
            "axis": {"orient": "right", "minExtent": 0, "maxExtent": 0, "values": [620,640,660,680,700,720,740,760,780,800,820,840,860,880], "labels": false, "title": null, "tickSize": {"condition": {"test": "datum.value % 100 === 0", "value": -6}, "value": -3}}}}},
    {"data": {"values": [{"label": "TH2"}]},
     "mark": {"type": "text", "align": "right", "baseline": "alphabetic", "dx": -8, "dy": 15, "fontSize": 15.5, "font": "Liberation Sans", "color": "#000"},
     "encoding": {"x": {"datum": 421, "type": "quantitative", "axis": null}, "y": {"datum": 881, "type": "quantitative", "axis": null}, "text": {"field": "label"}}}
   ],
   "resolve": {"axis": {"x": "independent", "y": "independent"}}
  },
  {
   "width": 605, "height": 89.6,
   "data": {"name": "lc"},
   "layer": [
    {"mark": {"type": "line", "color": "#00ffff", "strokeWidth": 2.5, "opacity": 0.3, "clip": true},
     "encoding": {
      "x": {"field": "t", "type": "quantitative", "scale": {"domain": [-522, 421], "nice": false, "zero": false},
            "axis": {"orient": "bottom", "minExtent": 0, "maxExtent": 0, "values": [-500,-400,-300,-200,-100,0,100,200,300,400], "labels": false, "title": null, "tickSize": {"condition": {"test": "datum.value % 200 === 0", "value": -6}, "value": -3}}},
      "y": {"field": "d", "type": "quantitative", "scale": {"domain": [1127, 1430], "nice": false, "zero": false},
            "axis": {"orient": "left", "format": "d", "values": [1140,1160,1180,1200,1220,1240,1260,1280,1300,1320,1340,1360,1380,1400,1420], "labelExpr": "datum.value % 100 === 0 ? datum.label : ''", "labelFontSize": {"condition": {"test": "datum.value % 100 === 0", "value": 15}, "value": 0}, "labelPadding": 17, "title": null, "tickSize": {"condition": {"test": "datum.value % 100 === 0", "value": -6}, "value": -3}}}}},
    {"mark": {"type": "line", "color": "#00ffff", "strokeWidth": 1, "clip": true},
     "encoding": {
      "x": {"field": "t", "type": "quantitative", "scale": {"domain": [-522, 421], "nice": false, "zero": false},
            "axis": {"orient": "top", "minExtent": 0, "maxExtent": 0, "values": [-500,-400,-300,-200,-100,0,100,200,300,400], "labels": false, "title": null, "tickSize": {"condition": {"test": "datum.value % 200 === 0", "value": -6}, "value": -3}}},
      "y": {"field": "d", "type": "quantitative", "scale": {"domain": [1127, 1430], "nice": false, "zero": false},
            "axis": {"orient": "right", "minExtent": 0, "maxExtent": 0, "values": [1140,1160,1180,1200,1220,1240,1260,1280,1300,1320,1340,1360,1380,1400,1420], "labels": false, "title": null, "tickSize": {"condition": {"test": "datum.value % 100 === 0", "value": -6}, "value": -3}}}}},
    {"data": {"values": [{"label": "TH3"}]},
     "mark": {"type": "text", "align": "right", "baseline": "alphabetic", "dx": -8, "dy": 15, "fontSize": 15.5, "font": "Liberation Sans", "color": "#000"},
     "encoding": {"x": {"datum": 421, "type": "quantitative", "axis": null}, "y": {"datum": 1430, "type": "quantitative", "axis": null}, "text": {"field": "label"}}}
   ],
   "resolve": {"axis": {"x": "independent", "y": "independent"}}
  },
  {
   "width": 605, "height": 89.6,
   "data": {"name": "lc"},
   "layer": [
    {"mark": {"type": "line", "color": "#ff00ff", "strokeWidth": 2.5, "opacity": 0.3, "clip": true},
     "encoding": {
      "x": {"field": "t", "type": "quantitative", "scale": {"domain": [-522, 421], "nice": false, "zero": false},
            "axis": {"orient": "bottom", "values": [-500,-400,-300,-200,-100,0,100,200,300,400], "labelExpr": "datum.value % 200 === 0 ? datum.label : ''", "labelFontSize": {"condition": {"test": "datum.value % 200 === 0", "value": 15}, "value": 0}, "labelPadding": 7, "title": "Time [sec] 0 = 2006/11/11 10:54:27", "titlePadding": 3, "tickSize": {"condition": {"test": "datum.value % 200 === 0", "value": -6}, "value": -3}}},
      "y": {"field": "e", "type": "quantitative", "scale": {"domain": [2770, 3400], "nice": false, "zero": false},
            "axis": {"orient": "left", "format": "d", "values": [2800,2850,2900,2950,3000,3050,3100,3150,3200,3250,3300,3350,3400], "labelExpr": "datum.value % 200 === 0 ? datum.label : ''", "labelFontSize": {"condition": {"test": "datum.value % 200 === 0", "value": 15}, "value": 0}, "labelPadding": 17, "title": null, "tickSize": {"condition": {"test": "datum.value % 200 === 0", "value": -6}, "value": -3}}}}},
    {"mark": {"type": "line", "color": "#ff00ff", "strokeWidth": 1, "clip": true},
     "encoding": {
      "x": {"field": "t", "type": "quantitative", "scale": {"domain": [-522, 421], "nice": false, "zero": false},
            "axis": {"orient": "top", "minExtent": 0, "maxExtent": 0, "values": [-500,-400,-300,-200,-100,0,100,200,300,400], "labels": false, "title": null, "tickSize": {"condition": {"test": "datum.value % 200 === 0", "value": -6}, "value": -3}}},
      "y": {"field": "e", "type": "quantitative", "scale": {"domain": [2770, 3400], "nice": false, "zero": false},
            "axis": {"orient": "right", "minExtent": 0, "maxExtent": 0, "values": [2800,2850,2900,2950,3000,3050,3100,3150,3200,3250,3300,3350,3400], "labels": false, "title": null, "tickSize": {"condition": {"test": "datum.value % 200 === 0", "value": -6}, "value": -3}}}}},
    {"data": {"values": [{"label": "TH0123"}]},
     "mark": {"type": "text", "align": "right", "baseline": "alphabetic", "dx": -8, "dy": 15, "fontSize": 15.5, "font": "Liberation Sans", "color": "#000"},
     "encoding": {"x": {"datum": 421, "type": "quantitative", "axis": null}, "y": {"datum": 3400, "type": "quantitative", "axis": null}, "text": {"field": "label"}}}
   ],
   "resolve": {"axis": {"x": "independent", "y": "independent"}}
  }
 ],
 "config": {
  "font": "Liberation Sans",
  "view": {"stroke": "#000", "strokeWidth": 1.5},
  "axis": {"domain": false, "grid": false, "tickColor": "#000", "tickWidth": 1, "labelFont": "Liberation Sans", "labelFontSize": 15, "labelColor": "#000", "labelFlush": false, "labelOverlap": false, "titleFont": "Liberation Sans", "titleFontSize": 15.3, "titleFontWeight": "normal", "titleColor": "#000"}
 }
}
